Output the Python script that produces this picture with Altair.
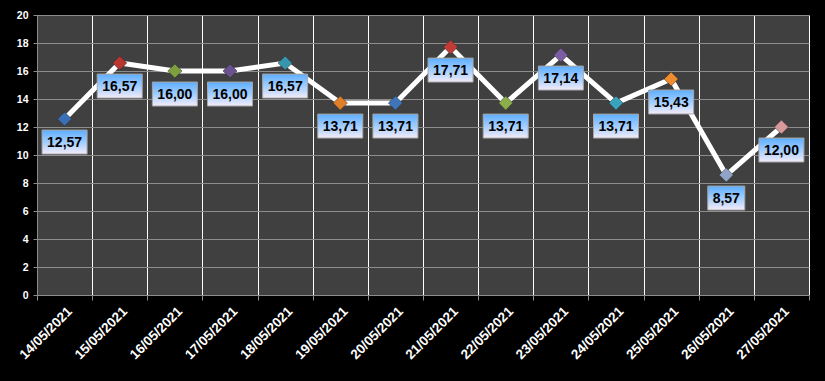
import altair as alt
import pandas as pd

dates = ["14/05/2021", "15/05/2021", "16/05/2021", "17/05/2021", "18/05/2021",
         "19/05/2021", "20/05/2021", "21/05/2021", "22/05/2021", "23/05/2021",
         "24/05/2021", "25/05/2021", "26/05/2021", "27/05/2021"]
values = [12.57, 16.57, 16.00, 16.00, 16.57, 13.71, 13.71, 17.71, 13.71, 17.14,
          13.71, 15.43, 8.57, 12.00]
marker_colors = ["#3a6fb5", "#b83530", "#7e9f3e", "#6a5190", "#3596ae", "#e07f28",
                 "#3e74ba", "#c23b36", "#8cae4a", "#7a5ea4", "#38a3bd", "#f08c30",
                 "#90a4c8", "#d8999a"]
y_ticks = [0, 2, 4, 6, 8, 10, 12, 14, 16, 18, 20]

df = pd.DataFrame({
    "date": dates,
    "value": values,
    "label": [f"{v:.2f}".replace(".", ",") for v in values],
    "color": marker_colors,
})

xaxis = alt.Axis(tickBand="extent", grid=True, gridColor="#ffffff", gridWidth=1,
                 domainColor="#8c8c8c", tickColor="#8c8c8c", tickSize=5,
                 labelAngle=-45, labelAlign="right", labelBaseline="top",
                 labelColor="#ffffff", labelFont="Liberation Sans",
                 labelFontWeight="bold", labelFontSize=13.5, labelPadding=4,
                 labelOverlap=False)
xscale = alt.Scale(type="band", paddingInner=0, paddingOuter=0)
yaxis = alt.Axis(values=y_ticks, grid=True, gridColor="#8c8c8c",
                 gridWidth=1, domainColor="#8c8c8c", tickColor="#8c8c8c",
                 tickSize=4, labelColor="#ffffff", labelFont="Liberation Sans",
                 labelFontWeight="bold", labelFontSize=10.5, labelPadding=5,
                 labelOverlap=False)
yscale = alt.Scale(domain=[0, 20], nice=False)


def X():
    return alt.X("date:N", sort=dates, title=None, scale=xscale, axis=xaxis)


def Y(field):
    return alt.Y(field, scale=yscale, title=None, axis=yaxis)


base = alt.Chart(df)

line = base.mark_line(color="#ffffff", strokeWidth=5).encode(x=X(), y=Y("value:Q"))

points = base.mark_point(shape="diamond", filled=True, size=200, opacity=1,
                         stroke="#2a2a2a", strokeWidth=0.5).encode(
    x=X(), y=Y("value:Q"),
    color=alt.Color("color:N", scale=None))

boxes = base.transform_calculate(
    top="datum.value - 0.79",
    bot="datum.value - 2.5",
    w="length(datum.label) * 8 + 5",
).mark_bar(
    fill=alt.Gradient(gradient="linear",
                      stops=[alt.GradientStop(color="#5eaefe", offset=0),
                             alt.GradientStop(color="#a8d0ff", offset=0.55),
                             alt.GradientStop(color="#f4ecf8", offset=1)],
                      x1=0, y1=0, x2=0, y2=1),
    stroke="#a6a6a6", strokeWidth=1, cornerRadius=0,
).encode(
    x=X(),
    y=Y("top:Q"), y2="bot:Q",
    size=alt.Size("w:Q", scale=None, legend=None),
)

labels = base.transform_calculate(mid="datum.value - 1.645").mark_text(
    font="Liberation Sans", fontWeight="bold", fontSize=14, color="#000000",
    baseline="middle", align="center", dy=1,
).encode(x=X(), y=Y("mid:Q"), text="label:N")

chart = alt.layer(line, points, boxes, labels).properties(
    width=772, height=280,
    background="#000000",
    padding={"left": 37, "top": 15, "right": 16, "bottom": 86},
    autosize=alt.AutoSizeParams(type="none"),
).configure_view(fill="#404040", stroke=None)

chart.save("out.html", embed_options={"renderer": "svg", "actions": False})
